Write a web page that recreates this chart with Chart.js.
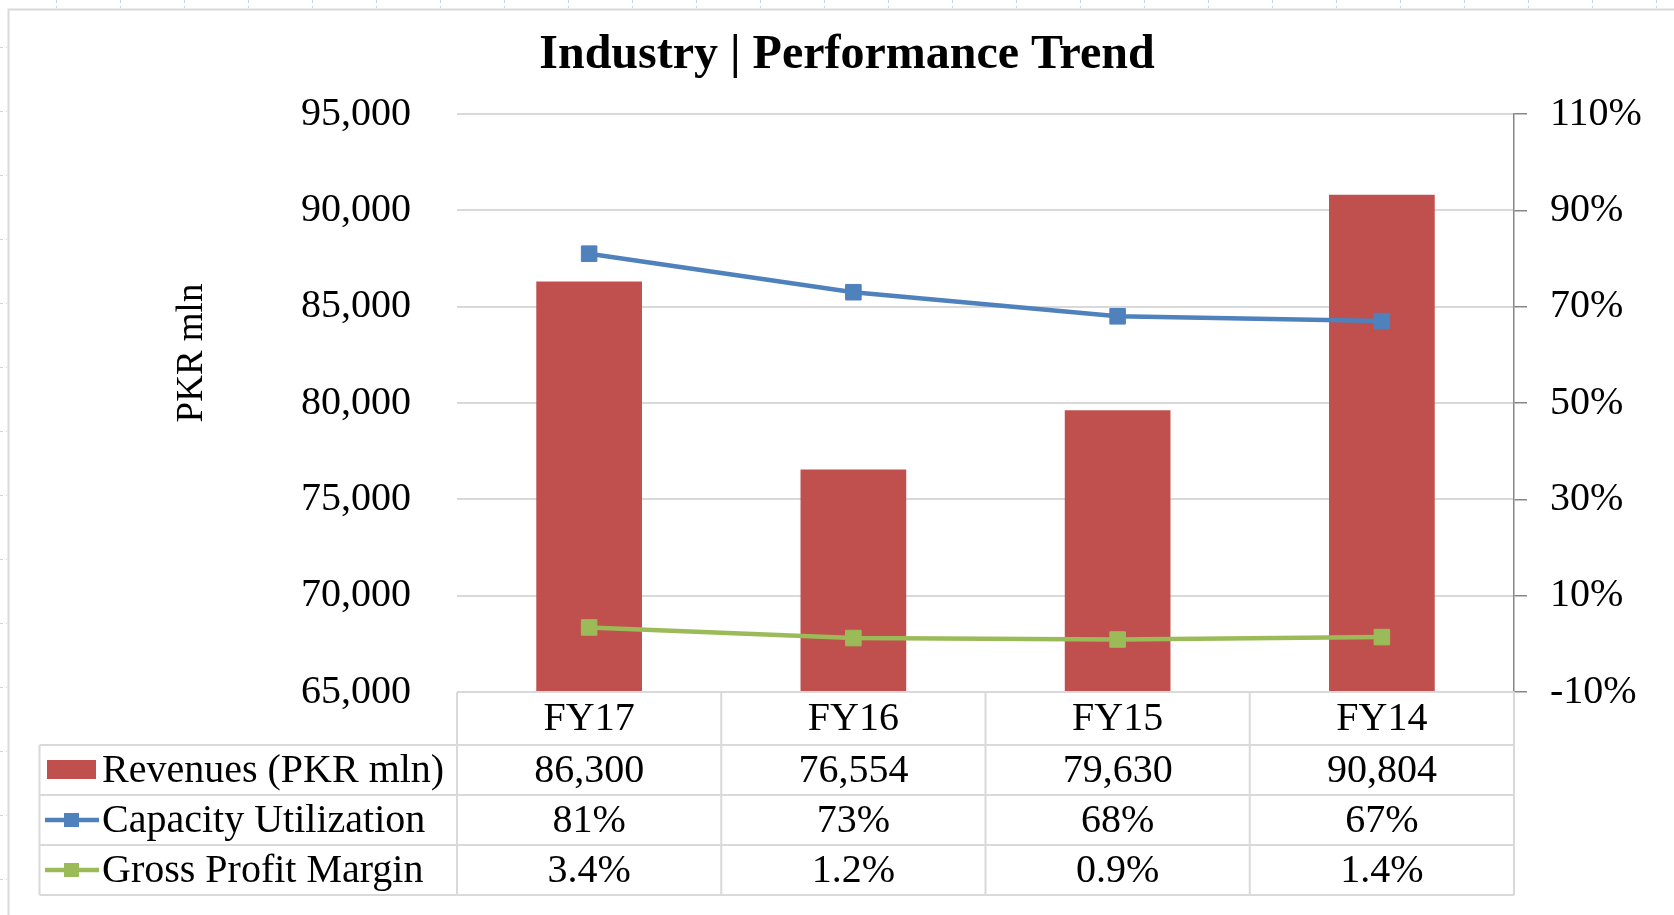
<!DOCTYPE html>
<html><head><meta charset="utf-8">
<script src="https://cdn.jsdelivr.net/npm/chart.js@4.4.0/dist/chart.umd.min.js"></script>
<style>html,body{margin:0;padding:0;background:#fff;overflow:hidden}canvas{display:block}</style>
</head><body>
<canvas id="c" width="1674" height="915" style="width:1674px;height:915px"></canvas>
<script>
const categories = ['FY17', 'FY16', 'FY15', 'FY14'];
const revenues = [86300, 76554, 79630, 90804];
const capacityUtilization = [81, 73, 68, 67];
const grossProfitMargin = [3.4, 1.2, 0.9, 1.4];
const revenueTicks = [65000, 70000, 75000, 80000, 85000, 90000, 95000];
const percentTicks = [-10, 10, 30, 50, 70, 90, 110];
const seriesNames = ['Revenues (PKR mln)', 'Capacity Utilization', 'Gross Profit Margin'];
const chartTitle = 'Industry | Performance Trend';
const leftAxisTitle = 'PKR mln';

const FONT = "'Liberation Serif', 'Times New Roman', serif";
const fmtRev = v => Number(v).toLocaleString('en-US');
const fmtCap = v => v + '%';
const fmtGpm = v => Number(v).toFixed(1) + '%';

const backgroundPlugin = {
  id: 'sheetBackground',
  beforeDraw(chart) {
    const ctx = chart.ctx;
    ctx.save();
    ctx.fillStyle = '#ffffff';
    ctx.fillRect(0, 0, chart.width, chart.height);
    ctx.strokeStyle = '#c9d3ee';
    ctx.lineWidth = 1;
    ctx.setLineDash([3, 3]);
    for (let x = 56.5; x < chart.width; x += 64) {
      ctx.beginPath(); ctx.moveTo(x, 0); ctx.lineTo(x, 8); ctx.stroke();
    }
    for (let y = 47.5; y < chart.height; y += 64) {
      ctx.beginPath(); ctx.moveTo(0, y); ctx.lineTo(7, y); ctx.stroke();
    }
    ctx.setLineDash([]);
    ctx.strokeStyle = '#d9d9d9';
    ctx.lineWidth = 2;
    ctx.strokeRect(8.5, 9.5, chart.width + 50, chart.height + 50);
    ctx.restore();
  }
};

const tablePlugin = {
  id: 'dataTable',
  afterDraw(chart) {
    const ctx = chart.ctx;
    const area = chart.chartArea;
    const xs = chart.scales.x;
    const n = categories.length;
    const colW = (area.right - area.left) / n;
    const top = area.bottom;
    const rows = [top, top + 53, top + 103, top + 153, top + 203];
    const leftX = 39.5;
    const line = (x1, y1, x2, y2) => { ctx.beginPath(); ctx.moveTo(x1, y1); ctx.lineTo(x2, y2); ctx.stroke(); };
    ctx.save();
    ctx.strokeStyle = '#d9d9d9';
    ctx.lineWidth = 2;
    line(area.left, rows[0], area.right, rows[0]);
    for (let i = 1; i < rows.length; i++) line(leftX, rows[i], area.right, rows[i]);
    line(leftX, rows[1], leftX, rows[4]);
    for (let k = 0; k <= n; k++) {
      const x = area.left + k * colW;
      line(x, rows[0], x, rows[4]);
    }
    ctx.fillStyle = '#000';
    ctx.font = '40px ' + FONT;
    ctx.textAlign = 'center';
    ctx.textBaseline = 'middle';
    const rowData = [revenues.map(fmtRev), capacityUtilization.map(fmtCap), grossProfitMargin.map(fmtGpm)];
    categories.forEach((c, i) => {
      const cx = xs.getPixelForValue(i);
      ctx.fillText(c, cx, (rows[0] + rows[1]) / 2 + 1);
      rowData.forEach((r, j) => ctx.fillText(r[i], cx, (rows[j + 1] + rows[j + 2]) / 2 + 1));
    });
    ctx.textAlign = 'left';
    const ds = chart.data.datasets;
    seriesNames.forEach((name, j) => {
      const cy = (rows[j + 1] + rows[j + 2]) / 2;
      const d = ds[j];
      if (d.type === 'bar') {
        ctx.fillStyle = d.backgroundColor;
        ctx.fillRect(47, cy - 10, 49, 19);
      } else {
        ctx.strokeStyle = d.borderColor;
        ctx.lineWidth = 4.5;
        line(45, cy, 99, cy);
        ctx.fillStyle = d.borderColor;
        ctx.fillRect(64, cy - 7, 15, 14);
      }
      ctx.fillStyle = '#000';
      ctx.fillText(name, 102, cy + 1);
    });
    ctx.save();
    ctx.translate(192, 353);
    ctx.rotate(-Math.PI / 2);
    ctx.textAlign = 'center';
    ctx.font = '37px ' + FONT;
    ctx.fillText(leftAxisTitle, 0, 0);
    ctx.restore();
    ctx.restore();
  }
};

new Chart(document.getElementById('c'), {
  data: {
    labels: categories,
    datasets: [
      {
        type: 'bar', label: seriesNames[0], data: revenues, yAxisID: 'y',
        backgroundColor: '#C0504D', barPercentage: 0.4, categoryPercentage: 1.0, order: 3
      },
      {
        type: 'line', label: seriesNames[1], data: capacityUtilization, yAxisID: 'y1',
        borderColor: '#4F81BD', backgroundColor: '#4F81BD', borderWidth: 4.5,
        pointStyle: 'rect', pointRadius: 11, pointHoverRadius: 11,
        pointBackgroundColor: '#4F81BD', pointBorderColor: '#4F81BD', pointBorderWidth: 1,
        tension: 0, order: 1
      },
      {
        type: 'line', label: seriesNames[2], data: grossProfitMargin, yAxisID: 'y1',
        borderColor: '#9BBB59', backgroundColor: '#9BBB59', borderWidth: 4.5,
        pointStyle: 'rect', pointRadius: 11, pointHoverRadius: 11,
        pointBackgroundColor: '#9BBB59', pointBorderColor: '#9BBB59', pointBorderWidth: 1,
        tension: 0, order: 2
      }
    ]
  },
  options: {
    responsive: false,
    animation: false,
    devicePixelRatio: 1,
    layout: { padding: { left: 20, right: 0, top: 0, bottom: 223 } },
    plugins: {
      legend: { display: false },
      tooltip: { enabled: false },
      title: {
        display: true, text: chartTitle, color: '#000',
        font: { family: FONT, size: 48, weight: 'bold', lineHeight: 1.2 },
        padding: { top: 27, bottom: 29.4 }
      }
    },
    scales: {
      x: { type: 'category', display: false, offset: true },
      y: {
        type: 'linear', position: 'left',
        min: revenueTicks[0], max: revenueTicks[revenueTicks.length - 1],
        afterBuildTicks: s => { s.ticks = revenueTicks.map(v => ({ value: v })); },
        afterFit: s => { s.width = 437; },
        ticks: { color: '#000', font: { family: FONT, size: 40 }, padding: 46, callback: v => fmtRev(v) },
        grid: { color: '#d9d9d9', lineWidth: 2, drawTicks: false },
        border: { display: false }
      },
      y1: {
        type: 'linear', position: 'right',
        min: percentTicks[0], max: percentTicks[percentTicks.length - 1],
        afterBuildTicks: s => { s.ticks = percentTicks.map(v => ({ value: v })); },
        afterFit: s => { s.width = 160; },
        ticks: { color: '#000', font: { family: FONT, size: 40 }, padding: 23, callback: v => v + '%' },
        grid: { drawOnChartArea: false, drawTicks: true, tickLength: 13, color: '#868686', lineWidth: 1.5 },
        border: { display: true, color: '#868686', width: 1.5 }
      }
    }
  },
  plugins: [backgroundPlugin, tablePlugin]
});
</script>
</body></html>
